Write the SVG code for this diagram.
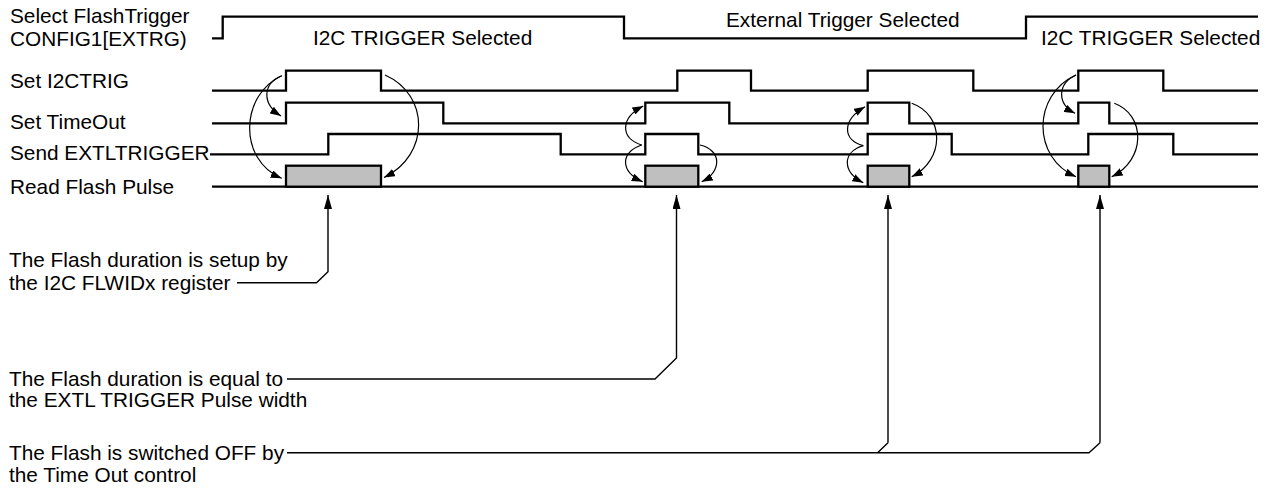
<svg xmlns="http://www.w3.org/2000/svg" width="1276" height="489" viewBox="0 0 1276 489">
<style>
text{font-family:"Liberation Sans",Arial,sans-serif;font-size:20.8px;fill:#000}
.wave{fill:none;stroke:#000;stroke-width:2.3;stroke-linejoin:miter}
.pulse{fill:#bfbfbf;stroke:#000;stroke-width:2.3}
.curve{fill:none;stroke:#000;stroke-width:1.2;marker-end:url(#ah)}
.lead{fill:none;stroke:#000;stroke-width:1.4}
.up{marker-end:url(#ahv)}
</style>
<defs>
<marker id="ah" markerUnits="userSpaceOnUse" markerWidth="11" markerHeight="8" refX="11" refY="4" orient="auto"><path d="M0,0 L11,4 L0,8 Z" fill="#000"/></marker>
<marker id="ahv" markerUnits="userSpaceOnUse" markerWidth="14" markerHeight="8" refX="14" refY="4" orient="auto"><path d="M0,0 L14,4 L0,8 Z" fill="#000"/></marker>
</defs>
<rect width="1276" height="489" fill="#fff"/>
<g id="labels">
<text x="10" y="23">Select FlashTrigger</text>
<text x="10" y="46.2">CONFIG1[EXTRG)</text>
<text x="10" y="88">Set I2CTRIG</text>
<text x="10" y="129">Set TimeOut</text>
<text x="10" y="159.5">Send EXTLTRIGGER</text>
<text x="10" y="193.5">Read Flash Pulse</text>
</g>
<g id="sig-select">
<path class="wave" d="M212,38.3 H222.7 V16.7 H624 V38.3 H1026 V16.7 H1258"/>
<text x="313" y="45">I2C TRIGGER Selected</text>
<text x="726" y="26.5">External Trigger Selected</text>
<text x="1041" y="45">I2C TRIGGER Selected</text>
</g>
<g id="sig-i2ctrig">
<path class="wave" d="M212,90.7 H286 V70.7 H381 V90.7 H677.3 V70.7 H751 V90.7 H867.7 V70.7 H973.3 V90.7 H1078.3 V70.7 H1163.3 V90.7 H1258"/>
</g>
<g id="sig-timeout">
<path class="wave" d="M212,123.3 H286 V102.7 H443.3 V123.3 H645.3 V102.7 H729.3 V123.3 H867.7 V102.7 H909.3 V123.3 H1078.3 V102.7 H1109.3 V123.3 H1258"/>
</g>
<g id="sig-extltrigger">
<path class="wave" d="M210,154.3 H328.3 V134 H560.7 V154.3 H645.3 V134 H698.3 V154.3 H867.7 V134 H951.7 V154.3 H1088.3 V134 H1173.3 V154.3 H1258"/>
</g>
<g id="sig-flash">
<path class="wave" d="M212,186.7 H1258"/>
<rect class="pulse" x="286" y="165.7" width="95" height="21"/>
<rect class="pulse" x="645.3" y="165.7" width="53" height="21"/>
<rect class="pulse" x="867.7" y="165.7" width="41.6" height="21"/>
<rect class="pulse" x="1078.3" y="165.7" width="31" height="21"/>
</g>
<g id="note1">
<text x="9" y="267">The Flash duration is setup by</text>
<text x="9" y="289.5">the I2C FLWIDx register</text>
</g>
<g id="note2">
<text x="9" y="385.5">The Flash duration is equal to</text>
<text x="9" y="407">the EXTL TRIGGER Pulse width</text>
</g>
<g id="note3">
<text x="9" y="460">The Flash is switched OFF by</text>
<text x="9" y="482">the Time Out control</text>
</g>
<g id="connectors">
<path class="curve" d="M281.7,75.7 C262,84 262,104 281,116"/>
<path class="curve" d="M281.7,75.7 C240,95 238,160 281.7,178.3"/>
<path class="curve" d="M385,75 C430,95 430,155 384,177.5"/>
<path class="curve" d="M641.7,145 C620,138 620,118 643.3,106"/>
<path class="curve" d="M641.7,145 C620,152 620,172 642.7,181.7"/>
<path class="curve" d="M700,145 C722,150 722,172 701.7,181.7"/>
<path class="curve" d="M863.3,145.7 C842,140 842,120 865,106.7"/>
<path class="curve" d="M863.3,145.7 C842,152 842,172 863.3,182.7"/>
<path class="curve" d="M911.7,103.3 C945,115 945,160 911.7,176.7"/>
<path class="curve" d="M1076,75 C1057,84 1057,104 1075,113.3"/>
<path class="curve" d="M1076,75 C1032,95 1032,158 1076,176.7"/>
<path class="curve" d="M1114.3,103.3 C1146,115 1146,160 1111.7,176.7"/>
<path class="lead up" d="M237,282.7 H316.5 L328,271.7 V195"/>
<path class="lead up" d="M287,379 H655 L676.5,358 V195"/>
<path class="lead" d="M287,452.7 H1089 L1100,442.7"/>
<path class="lead up" d="M1100,442.7 V195"/>
<path class="lead" d="M877.6,452.7 L888,442.7"/>
<path class="lead up" d="M888,442.7 V195"/>
</g>
</svg>
